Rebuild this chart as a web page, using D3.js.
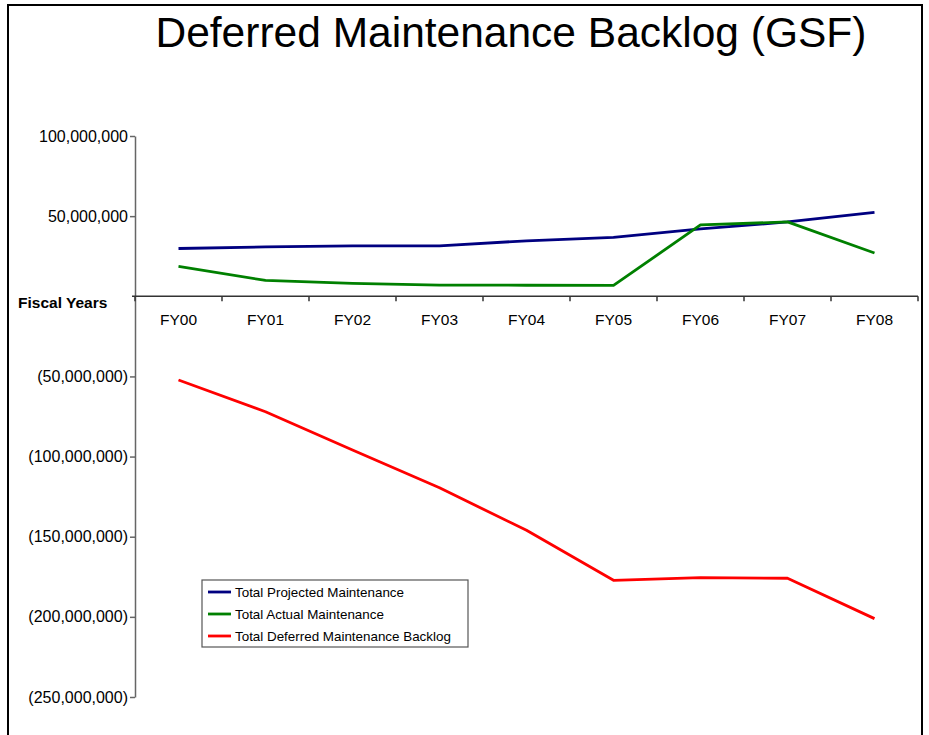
<!DOCTYPE html>
<html>
<head>
<meta charset="utf-8">
<script src="https://cdn.jsdelivr.net/npm/d3@7"></script>
<style>
  body { margin: 0; background: #fff; }
  svg { display: block; font-family: Arial, "Liberation Sans", sans-serif; }
</style>
</head>
<body>
<svg id="chart" width="929" height="735"></svg>
<script>
// data
const years = ["FY00", "FY01", "FY02", "FY03", "FY04", "FY05", "FY06", "FY07", "FY08"];
const projected = [29.8e6, 30.8e6, 31.4e6, 31.5e6, 34.6e6, 36.7e6, 42.0e6, 46.4e6, 52.4e6];
const actual = [18.6e6, 9.9e6, 8.1e6, 7.0e6, 6.9e6, 6.8e6, 44.5e6, 46.4e6, 27.0e6];
const backlog = [-52.2e6, -72.0e6, -95.9e6, -119.5e6, -146.0e6, -177.2e6, -175.5e6, -175.9e6, -201.1e6];
const yTicks = [100e6, 50e6, -50e6, -100e6, -150e6, -200e6, -250e6];

const series = [
    {name: "Total Projected Maintenance", values: projected, color: "#000080"},
    {name: "Total Actual Maintenance", values: actual, color: "#008000"},
    {name: "Total Deferred Maintenance Backlog", values: backlog, color: "#ff0000"}
];

const svg = d3.select("#chart");
const m = {left: 135, right: 918, top: 136, bottom: 697};

const x = d3.scaleBand().domain(years).range([m.left, m.right]);
const y = d3.scaleLinear().domain([-250e6, 100e6]).range([m.bottom, m.top]);

// outer frame
svg.append("rect")
    .attr("x", 8).attr("y", 5)
    .attr("width", 914).attr("height", 760)
    .attr("fill", "none").attr("stroke", "#000").attr("stroke-width", 2);

// title
svg.append("text")
    .attr("x", 511).attr("y", 47)
    .attr("text-anchor", "middle")
    .attr("font-size", "42.5px")
    .text("Deferred Maintenance Backlog (GSF)");

const fmt = v => {
    const s = d3.format(",")(Math.abs(v));
    return v < 0 ? `(${s})` : s;
};

// y axis
const yAxis = svg.append("g")
    .attr("transform", `translate(${m.left},0)`)
    .call(d3.axisLeft(y).tickValues(yTicks).tickFormat(fmt).tickSize(5).tickSizeOuter(0));
yAxis.select(".domain").attr("stroke", "#666").attr("stroke-width", 1.5);
yAxis.selectAll(".tick line").attr("stroke", "#666").attr("stroke-width", 1.5);
yAxis.selectAll(".tick text")
    .attr("x", -7)
    .attr("font-size", "16px").attr("fill", "#000")
    .attr("font-family", "Arial, 'Liberation Sans', sans-serif");

// x axis along zero
const y0 = y(0);
const xAxis = svg.append("g").attr("transform", `translate(0,${y0})`);
xAxis.append("line")
    .attr("x1", m.left - 3).attr("x2", m.right)
    .attr("stroke", "#333").attr("stroke-width", 1.5);
const bounds = years.map(d => x(d)).concat([m.right]);
xAxis.selectAll("line.tk").data(bounds).join("line")
    .attr("class", "tk")
    .attr("x1", d => d).attr("x2", d => d)
    .attr("y1", 0).attr("y2", 5)
    .attr("stroke", "#333").attr("stroke-width", 1.5);
xAxis.selectAll("text").data(years).join("text")
    .attr("x", d => x(d) + x.bandwidth() / 2)
    .attr("y", 29)
    .attr("text-anchor", "middle")
    .attr("font-size", "15.5px")
    .text(d => d);

svg.append("text")
    .attr("x", 18).attr("y", 307.5)
    .attr("font-size", "15.5px").attr("font-weight", "bold")
    .text("Fiscal Years");

// lines
const line = d3.line()
    .x((d, i) => x(years[i]) + x.bandwidth() / 2)
    .y(d => y(d));

svg.selectAll("path.series").data(series).join("path")
    .attr("class", "series")
    .attr("d", d => line(d.values))
    .attr("fill", "none")
    .attr("stroke", d => d.color)
    .attr("stroke-width", 2.8)
    .attr("stroke-linejoin", "round");

// legend
const lg = svg.append("g").attr("transform", "translate(202,580)");
lg.append("rect")
    .attr("width", 266).attr("height", 67)
    .attr("fill", "#fff").attr("stroke", "#555").attr("stroke-width", 1.2);
const item = lg.selectAll("g.item").data(series).join("g")
    .attr("class", "item")
    .attr("transform", (d, i) => `translate(0,${12 + i * 22})`);
item.append("line")
    .attr("x1", 6).attr("x2", 29)
    .attr("stroke", d => d.color).attr("stroke-width", 2.8);
item.append("text")
    .attr("x", 33).attr("y", 4.5)
    .attr("font-size", "13.4px")
    .text(d => d.name);
</script>
</body>
</html>
